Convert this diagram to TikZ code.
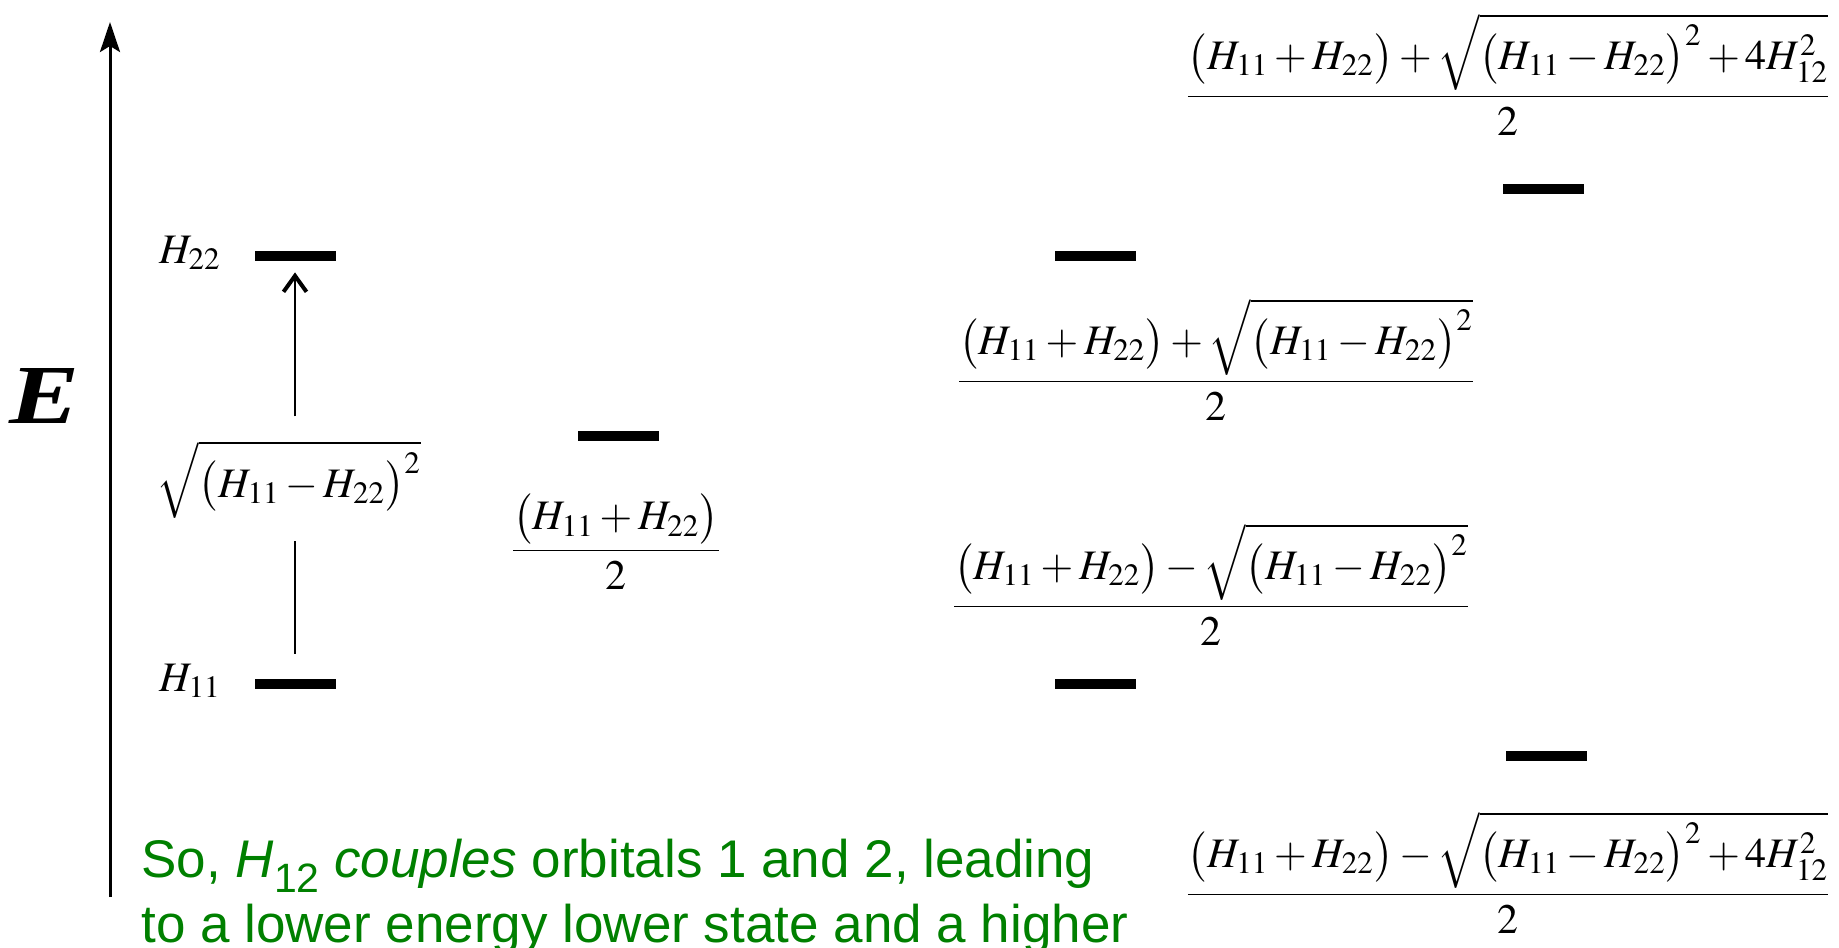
\documentclass[tikz,border=0pt]{standalone}
\usepackage{amsmath}
\usepackage{mathptmx}
\usepackage[no-math]{fontspec}
\newfontfamily\arialfont{Liberation Sans}
\newfontfamily\timesfont{Liberation Serif}
\usetikzlibrary{arrows.meta, positioning}
\definecolor{notegreen}{RGB}{0,128,0}
\newcommand{\Hsum}{\bigl(H_{11}+H_{22}\bigr)}
\newcommand{\Hdiff}{\bigl(H_{11}-H_{22}\bigr)^{2}}
\tikzset{
    level/.style={fill=black, inner sep=0pt, minimum width=40.5pt, minimum height=5pt},
    eq/.style={inner sep=0pt, anchor=base, font=\fontsize{21}{25}\selectfont},
    note/.style={inner sep=0pt, anchor=base west, text=notegreen, font=\arialfont\fontsize{26.5}{32}\selectfont},
}

\begin{document}
\begin{tikzpicture}[x=0.5pt, y=-0.5pt]
    \useasboundingbox (0,0) rectangle (1839,947);
    % energy axis
    \coordinate (axbot) at (110,897);
    \coordinate (axtop) at (110,22);
    \draw [line width=1.5pt, -{Stealth[length=15pt, width=10pt, inset=3pt]}] (axbot) -- (axtop);
    \node [font={\timesfont\fontsize{42}{46}\selectfont\bfseries\itshape}] (elabel) at (45,396) {\scalebox{1.25}[1]{E}};
    % levels
    \foreach \nm/\x/\y in {lvlA/295/684, lvlB/295/256, lvlM/618/436, lvlN/1095/684, lvlP/1095/256, lvlU/1546/756, lvlT/1543/189}{
        \node[level] (\nm) at (\x,\y) {};
    }
    % labels
    \node[eq] (labB) at (190,263) {$H_{22}$};
    \node[eq] (labA) at (190,691) {$H_{11}$};
    \node[eq] (dgap) at (289,497) {$\sqrt{\Hdiff}$};
    \node[eq] (avg) at (616,561) {$\displaystyle\frac{\Hsum}{2}$};
    \node[eq] (eqP) at (1216,392) {$\displaystyle\frac{\Hsum+\sqrt{\Hdiff}}{2}$};
    \node[eq] (eqN) at (1211,617) {$\displaystyle\frac{\Hsum-\sqrt{\Hdiff}}{2}$};
    \node[eq] (eqT) at (1508,107) {$\displaystyle\frac{\Hsum+\sqrt{\Hdiff+4H_{12}^{2}}}{2}$};
    \node[eq] (eqU) at (1508,905) {$\displaystyle\frac{\Hsum-\sqrt{\Hdiff+4H_{12}^{2}}}{2}$};
    \draw [line width=1pt, -{Straight Barb[length=8pt, width=11.5pt, line width=2pt]}, shorten <=12pt, shorten >=5.5pt] (dgap.north -| lvlB) -- (lvlB.south);
    \draw [line width=1pt, shorten <=11.5pt, shorten >=12.5pt] (dgap.south -| lvlA) -- (lvlA.north);
    % note
    \node[note] (note1) at (141,877) {So, \textit{H}\raisebox{-0.3em}{\fontsize{20.5}{20.5}\selectfont 12} \textit{couples} orbitals 1 and 2, leading};
    \node[note] (note2) at (141,942) {to a lower energy lower state and a higher};
\end{tikzpicture}
\end{document}
